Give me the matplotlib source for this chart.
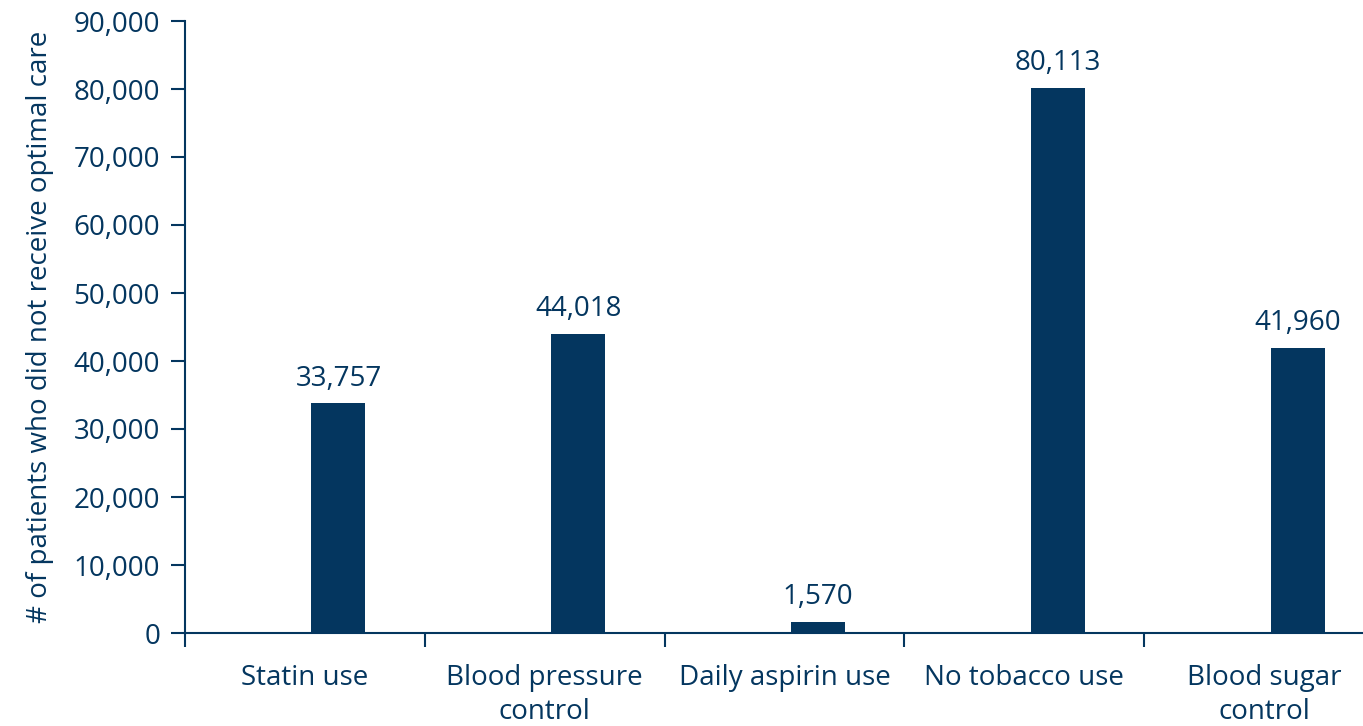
from matplotlib import pyplot as plt
from matplotlib.ticker import FuncFormatter
import matplotlib

categories = ['Statin use', 'Blood pressure\ncontrol', 'Daily aspirin use',
              'No tobacco use', 'Blood sugar\ncontrol']
values = [33757, 44018, 1570, 80113, 41960]

navy = '#04365F'
matplotlib.rcParams.update({'font.family': 'Open Sans', 'font.size': 20})

fig = plt.figure(figsize=(13.63, 7.26), dpi=100)
ax = fig.add_axes([185 / 1363, 1 - 633 / 726, 1 - 185 / 1363, (633 - 21) / 726])

x = list(range(len(categories)))
bar_x = [i + 0.14 for i in x]
bars = ax.bar(bar_x, values, width=0.225, color=navy)
for b, v in zip(bars, values):
    ax.text(b.get_x() + b.get_width() / 2, v + 1600, '{:,}'.format(v),
            ha='center', va='bottom', color=navy, fontsize=20)

ax.set_xlim(-0.5, 4.5 - 21 / 240)
ax.set_ylim(0, 90000)
ax.set_yticks(range(0, 90001, 10000))
ax.yaxis.set_major_formatter(FuncFormatter(lambda v, p: '{:,}'.format(int(v))))

# category boundaries get the tick marks, names sit in the middle
ax.set_xticks([i - 0.5 for i in x])
ax.set_xticklabels([])
ax.set_xticks(x, minor=True)
ax.set_xticklabels(categories, minor=True, color=navy, fontsize=20, linespacing=1.3)
ax.tick_params(axis='x', which='minor', length=0, pad=22)
ax.tick_params(axis='x', which='major', length=10, width=1.5, color=navy, direction='out')
ax.tick_params(axis='y', length=10, width=1.5, color=navy, labelcolor=navy, pad=8)

for s in ['top', 'right']:
    ax.spines[s].set_visible(False)
for s in ['left', 'bottom']:
    ax.spines[s].set_color(navy)
    ax.spines[s].set_linewidth(1.5)

ax.set_ylabel('# of patients who did not receive optimal care', color=navy, fontsize=20, labelpad=14)

fig.savefig('out.png', dpi=100)
plt.close()
